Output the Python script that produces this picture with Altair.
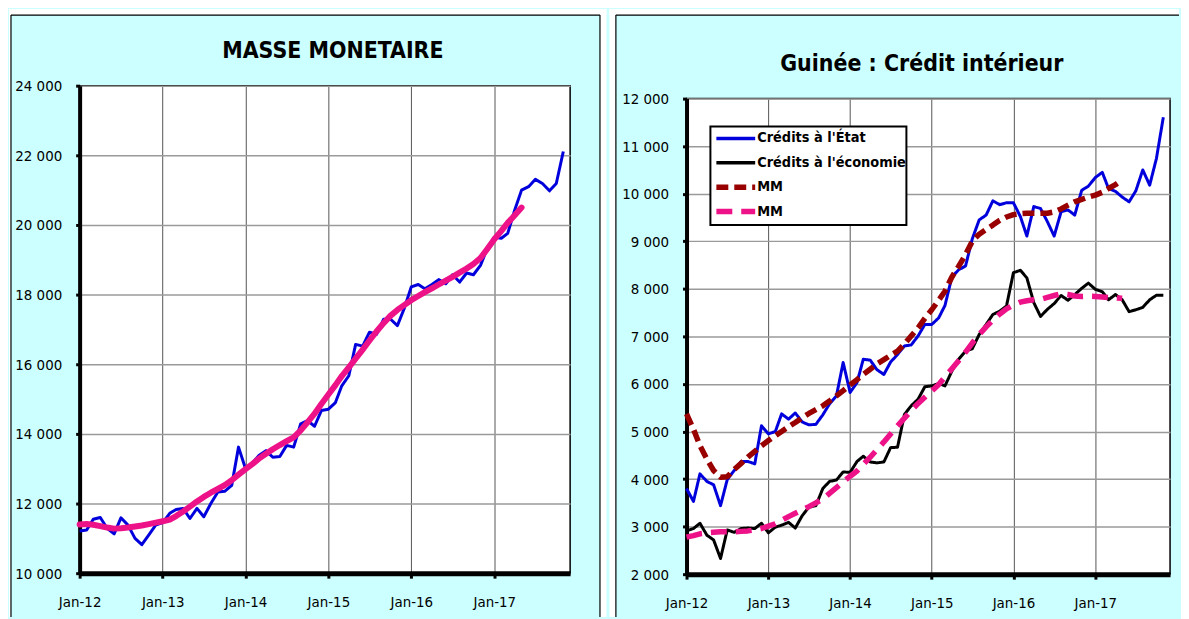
import altair as alt
import pandas as pd

FONT = "Liberation Sans Narrow, DejaVu Sans Condensed, Arial Narrow, Liberation Sans, sans-serif"

# ---------------- data (monthly, starting Jan-2012) ----------------
masse_monetaire = [11210, 11240, 11550, 11600, 11290, 11130, 11590, 11380, 11000, 10820, 11100, 11380,
                   11450, 11720, 11830, 11860, 11570, 11860, 11620, 12000, 12330, 12350, 12520, 13620,
                   13000, 13170, 13380, 13520, 13330, 13350, 13670, 13620, 14290, 14380, 14220, 14670,
                   14710, 14900, 15380, 15670, 16570, 16520, 16920, 16860, 17290, 17300, 17110, 17600,
                   18220, 18290, 18170, 18290, 18430, 18310, 18570, 18360, 18620, 18570, 18840, 19330,
                   19650, 19620, 19760, 20430, 21000, 21100, 21310, 21190, 20980, 21190, 22110]
masse_tendance = [11400, 11410, 11390, 11350, 11310, 11280, 11290, 11310, 11340, 11370, 11410, 11450,
                  11490, 11540, 11640, 11770, 11910, 12060, 12190, 12310, 12420, 12530, 12670, 12830,
                  12990, 13140, 13290, 13430, 13560, 13680, 13790, 13900, 14100, 14330, 14580, 14860,
                  15130, 15400, 15660, 15910, 16160, 16420, 16680, 16940, 17180, 17390, 17560, 17700,
                  17840, 17960, 18070, 18180, 18290, 18400, 18510, 18630, 18750, 18880, 19050, 19310,
                  19590, 19830, 20060, 20280, 20500]

credits_etat = [3800, 3530, 4110, 3950, 3880, 3440, 3990, 4180, 4370, 4370, 4320, 5120,
                4950, 5000, 5370, 5260, 5390, 5200, 5140, 5150, 5350, 5580, 5750, 6450,
                5820, 6030, 6520, 6500, 6300, 6200, 6460, 6620, 6800, 6820, 7010, 7250,
                7250, 7390, 7650, 8250, 8400, 8480, 9050, 9450, 9550, 9850, 9770, 9810,
                9810, 9520, 9110, 9730, 9690, 9410, 9110, 9620, 9660, 9550, 10070, 10160,
                10340, 10450, 10110, 10050, 9930, 9830, 10060, 10500, 10180, 10740, 11610]
credits_economie = [2910, 2960, 3070, 2820, 2720, 2330, 2930, 2880, 2960, 2970, 2960, 3070,
                    2870, 2990, 3030, 3090, 2970, 3230, 3410, 3440, 3800, 3950, 3980, 4150,
                    4140, 4370, 4480, 4360, 4340, 4360, 4660, 4670, 5360, 5540, 5680, 5940,
                    5960, 6010, 5960, 6270, 6520, 6690, 6740, 7040, 7250, 7460, 7530, 7640,
                    8340, 8390, 8230, 7710, 7420, 7570, 7690, 7860, 7760, 7880, 8010, 8120,
                    7990, 7940, 7770, 7880, 7770, 7520, 7560, 7610, 7770, 7865, 7865]
mm_etat = [5370, 5050, 4700, 4420, 4180, 4040, 4050, 4200, 4330, 4460, 4580, 4700,
           4810, 4910, 5000, 5100, 5190, 5290, 5380, 5460, 5540, 5640, 5750, 5860,
           5980, 6090, 6200, 6310, 6420, 6510, 6600, 6690, 6840, 7010, 7180, 7380,
           7560, 7760, 7950, 8250, 8470, 8720, 9000, 9150, 9250, 9340, 9440, 9510,
           9560, 9580, 9590, 9590, 9590, 9590, 9620, 9680, 9760, 9830, 9880, 9930,
           9970, 10030, 10110, 10190, 10290]
mm_economie = [2780, 2810, 2850, 2870, 2880, 2890, 2890, 2890, 2900, 2910, 2930, 2960,
               3010, 3060, 3130, 3210, 3280, 3350, 3420, 3500, 3580, 3700, 3820, 3940,
               4060, 4170, 4310, 4460, 4620, 4780, 4950, 5120, 5280, 5440, 5590, 5720,
               5850, 5990, 6150, 6320, 6490, 6670, 6860, 7040, 7200, 7340, 7470, 7580,
               7660, 7720, 7750, 7770, 7780, 7820, 7860, 7900, 7880, 7850, 7840, 7845,
               7840, 7830, 7815, 7810, 7800]

legend_labels = ["Crédits à l'État", "Crédits à l'économie", "MM", "MM"]
legend_colors = ["#0000DD", "#000000", "#990000", "#EE1289"]
legend_dash = [[1, 0], [1, 0], [12, 6], [16, 9]]
legend_width = [3.5, 3.5, 5.5, 5.5]

year_ticks = [2012, 2013, 2014, 2015, 2016, 2017]

LABEL_SIZE = 15
TITLE_SIZE = 23
LEGEND_SIZE = 14.5


def month_frame(vals):
    dates = [f"{2012 + i // 12}/{i % 12 + 1:02d}/01" for i in range(len(vals))]
    return pd.DataFrame({"date": dates, "value": vals})


one = pd.DataFrame({"k": [0]})
WHITE = "white"
CYAN = "#CCFFFF"
GRIDY = "#9a9a9a"
GRIDX = "#555555"


def x_enc():
    return alt.X(
        "date:T",
        scale=alt.Scale(domain=[alt.DateTime(year=2012, month=1, date=1),
                                alt.DateTime(year=2017, month=12, date=1)]),
        axis=alt.Axis(values=[alt.DateTime(year=y, month=1, date=1) for y in year_ticks],
                      format="%b-%y", title=None, grid=True, gridColor=GRIDX, gridWidth=1,
                      domainColor="black", domainWidth=5, tickColor="black", tickWidth=3,
                      tickSize=5, labelPadding=23, labelBaseline="middle",
                      labelFont=FONT, labelFontSize=LABEL_SIZE, labelColor="black",
                      labelFlush=False, labelOverlap=False),
    )


def y_enc(lo, hi, step):
    return alt.Y(
        "value:Q",
        scale=alt.Scale(domain=[lo, hi], nice=False, zero=False),
        axis=alt.Axis(values=list(range(lo, hi + 1, step)), title=None,
                      labelExpr="replace(format(datum.value, ','), ',', ' ')",
                      grid=True, gridColor=GRIDY, gridWidth=1.5,
                      domainColor="black", domainWidth=4, tickColor="black", tickWidth=3,
                      tickSize=4, labelPadding=14, labelFont=FONT, labelFontSize=LABEL_SIZE,
                      labelColor="black", labelOverlap=False),
    )


def rect(x, x2, y, y2, fill=WHITE, opacity=1):
    return alt.Chart(one).mark_rect(fill=fill, opacity=opacity).encode(
        x=alt.value(x), x2=alt.value(x2), y=alt.value(y), y2=alt.value(y2))


def rule(x, x2, y, y2, width=1.2):
    return alt.Chart(one).mark_rule(color="black", strokeWidth=width).encode(
        x=alt.value(x), x2=alt.value(x2), y=alt.value(y), y2=alt.value(y2))


def title_text(txt, x, y):
    return alt.Chart(one).mark_text(
        text=txt, font=FONT, fontSize=TITLE_SIZE, fontWeight="bold", align="center",
        baseline="alphabetic", color="black").encode(x=alt.value(x), y=alt.value(y))


# ---------------- left panel ----------------
LW, LH = 493, 490
left_deco = [
    rect(-71, 529.5, -77, -71),
    rect(-71, -69, -77, 534),
    rect(523, 529.5, -77, 534),
    rule(-69, -69, -71, 534),
    rule(-69, 523, -71, -71),
    rule(523, 523, -71, 534),
]
blue_left = alt.Chart(month_frame(masse_monetaire)).mark_line(
    color="#0000DD", strokeWidth=3, strokeJoin="round").encode(
    x=x_enc(), y=y_enc(10000, 24000, 2000))
pink_left = alt.Chart(month_frame(masse_tendance)).mark_line(
    color="#EE1289", strokeWidth=6, strokeJoin="round", strokeCap="round").encode(
    x=x_enc(), y=y_enc(10000, 24000, 2000))
left = alt.layer(*left_deco, blue_left, pink_left,
                 title_text("MASSE MONETAIRE", LW / 2 + 8, -28)).properties(width=LW, height=LH)

# ---------------- right panel ----------------
RW, RH = 486, 478
OFF = 13  # right plot sits lower than the left one
RIGHT_END = 495  # canvas ends at the page's right margin
right_deco = [
    rect(-77.5, RIGHT_END, -90, -84),
    rect(-77.5, -71, -90, 521),
    rule(-71, -71, -84, 521),
    rule(-71, RIGHT_END, -84, -84),
]
series = [credits_etat, credits_economie, mm_etat, mm_economie]
lines = []
for vals, col, dash, w in zip(series, legend_colors, legend_dash, legend_width):
    lines.append(alt.Chart(month_frame(vals)).mark_line(
        color=col, strokeWidth=w if dash[1] else 3, strokeDash=dash, strokeJoin="round").encode(
        x=x_enc(), y=y_enc(2000, 12000, 1000)))

leg = [alt.Chart(one).mark_rect(fill="white", stroke="black", strokeWidth=2).encode(
    x=alt.value(24), x2=alt.value(221), y=alt.value(28), y2=alt.value(127))]
for i, (lab, col, dash, w) in enumerate(zip(legend_labels, legend_colors, legend_dash, legend_width)):
    yc = 40 + i * 24.5
    leg.append(alt.Chart(one).mark_rule(color=col, strokeWidth=w, strokeDash=dash).encode(
        x=alt.value(30), x2=alt.value(69), y=alt.value(yc)))
    leg.append(alt.Chart(one).mark_text(
        text=lab, font=FONT, fontSize=LEGEND_SIZE, fontWeight="bold", align="left",
        baseline="middle", color="black").encode(x=alt.value(71), y=alt.value(yc)))

right_plot = alt.layer(*right_deco, *lines, *leg,
                       title_text("Guinée : Crédit intérieur", RW / 2 - 6.5, -28)).properties(width=RW, height=RH)

spacer = rect(0, 10, 0, 5, fill=CYAN, opacity=0).properties(
    width=RW, height=OFF, view=alt.ViewConfig(fill="transparent", stroke="transparent"))

right = alt.vconcat(spacer, right_plot, spacing=0, bounds="flush")

chart = alt.hconcat(left, right, spacing=0).resolve_scale(
    x="independent", y="independent").configure(
    background=CYAN, padding={"top": -1.5, "left": 0, "right": 0, "bottom": 2}).configure_view(
    fill="white", stroke="black", strokeWidth=1.5)

chart.save("out.html", embed_options={"renderer": "svg", "actions": False})
